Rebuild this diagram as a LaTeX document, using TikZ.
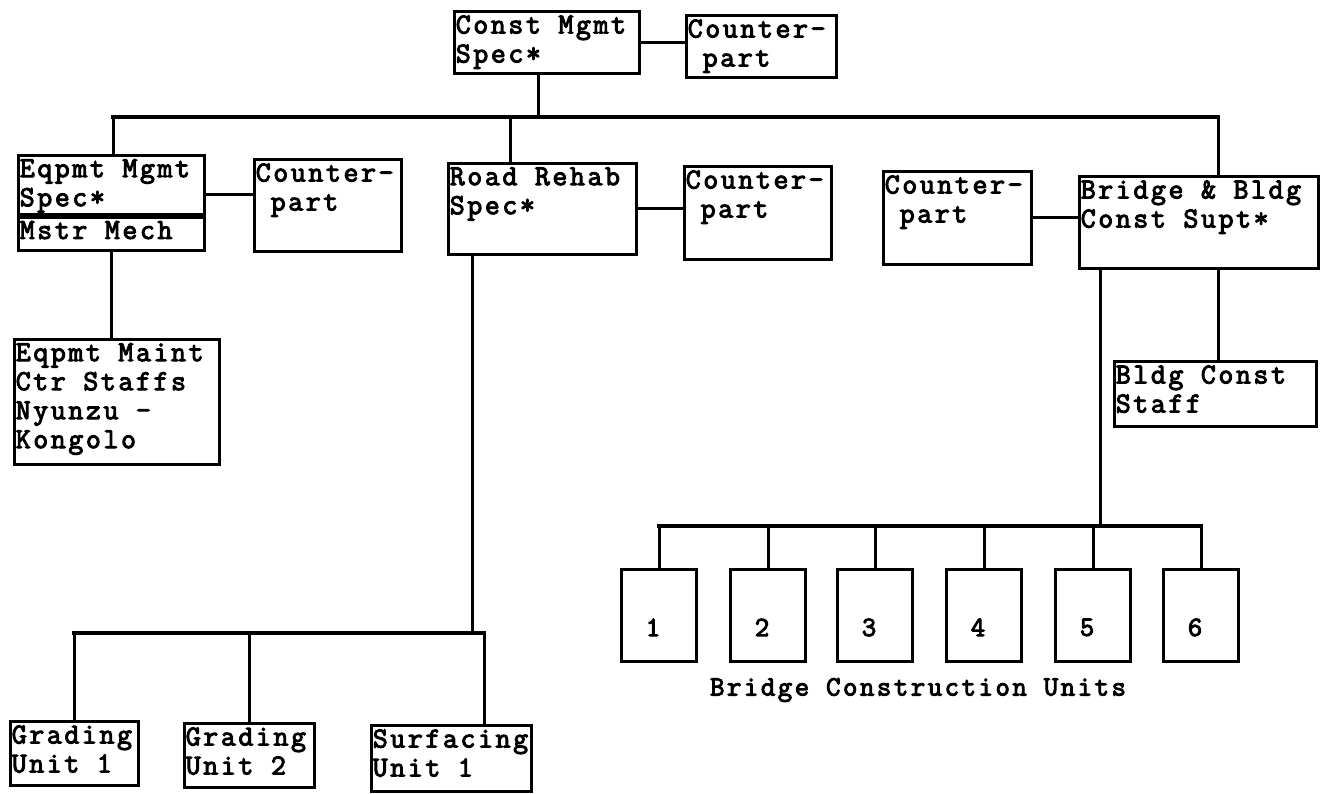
\documentclass[tikz,border=0pt]{standalone}
\usepackage{fontspec}
\newfontfamily\typer[LetterSpace=9, FakeBold=3.5]{Latin Modern Mono}
\usetikzlibrary{positioning}

\tikzset{
  box/.style={draw, line width=1.4pt, anchor=north west, inner sep=0pt},
  txt/.style={anchor=north west, inner xsep=1.2pt, inner ysep=2.5pt, align=left,
    font=\typer\fontsize{14.5pt}{14.5pt}\selectfont},
  num/.style={font=\typer\fontsize{14pt}{14pt}\selectfont, xshift=-3pt, yshift=-6pt},
  link/.style={line width=1.5pt},
  bar/.style={line width=2.2pt},
}

\begin{document}
\begin{tikzpicture}[x=1pt, y=-1pt, line cap=rect]
\useasboundingbox (0,0) rectangle (662.5,396.5);

% top
\node[box, minimum width=92.5pt, minimum height=31pt, label={[txt]north west:{Const Mgmt\\Spec*}}] (cms) at (226.5,5) {};
\node[box, minimum width=75pt, minimum height=31pt, label={[txt]north west:{Counter-\\\hphantom{C}part}}] (cp0) at (342.5,7) {};

% second row
\node[box, minimum width=93pt, minimum height=29.5pt, label={[txt]north west:{Eqpmt Mgmt\\Spec*}}] (ems) at (8.5,77) {};
\node[box, minimum width=93pt, minimum height=16.5pt, label={[txt]north west:{Mstr Mech}}] (mm) at (ems.south west) {};
\node[box, minimum width=73.5pt, minimum height=46pt, label={[txt]north west:{Counter-\\\hphantom{C}part}}] (cp1) at (126.5,79) {};
\node[box, minimum width=94pt, minimum height=45.5pt, label={[txt]north west:{Road Rehab\\Spec*}}] (rrs) at (223.5,81) {};
\node[box, minimum width=73.5pt, minimum height=46.5pt, label={[txt]north west:{Counter-\\\hphantom{C}part}}] (cp2) at (341.5,82.5) {};
\node[box, minimum width=74pt, minimum height=46.5pt, label={[txt]north west:{Counter-\\\hphantom{C}part}}] (cp3) at (441,85) {};
\node[box, minimum width=119.5pt, minimum height=46pt, label={[txt]north west:{Bridge \& Bldg\\Const Supt*}}] (bbs) at (539,87.5) {};

% third row
\node[box, minimum width=102.5pt, minimum height=62.5pt, label={[txt]north west:{Eqpmt Maint\\Ctr Staffs\\Nyunzu -\\Kongolo}}] (emc) at (6.5,169) {};
\node[box, minimum width=101pt, minimum height=32.5pt, label={[txt]north west:{Bldg Const\\Staff}}] (bcs) at (556.5,180) {};

% road units
\node[box, minimum width=64pt, minimum height=32pt, label={[txt]north west:{Grading\\Unit 1}}] (gu1) at (4.5,360) {};
\node[box, minimum width=65pt, minimum height=32pt, label={[txt]north west:{Grading\\Unit 2}}] (gu2) at (91.5,361) {};
\node[box, minimum width=80pt, minimum height=33pt, label={[txt]north west:{Surfacing\\Unit 1}}] (su1) at (185,362) {};

% bridge units
\foreach \i/\x in {1/329.5, 2/384, 3/437.5, 4/492, 5/546.5, 6/600.5}
  \node[box, anchor=north, minimum width=37.5pt, minimum height=46pt, label={[num]center:\i}] (u\i) at (\x,284) {};
\node[font=\typer\fontsize{14pt}{14pt}\selectfont] (bcu) at (459,345) {Bridge Construction Units};

% junctions
\coordinate (jE) at (56.5,58.5);
\coordinate (jC) at (269,58.5);
\coordinate (jR) at (255,58.5);
\coordinate (jB) at (609,58.5);
\coordinate (jS) at (236,316.5);
\coordinate (jU) at (242,316.5);
\coordinate (jD) at (550,263);

% lines
\draw[bar] (jE) -- (jB);
\draw[link] (cms.south -| jC) -- (jC);
\draw[link] (jE) -- (jE |- ems.north);
\draw[link] (jR) -- (jR |- rrs.north);
\draw[link] (jB) -- (jB |- bbs.north);

\draw[link] (cms.east) -- (cms.east -| cp0.west);
\draw[link] ([yshift=-5pt]ems.east) -- ([yshift=-5pt]ems.east -| cp1.west);
\draw[link] (rrs.east) -- (rrs.east -| cp2.west);
\draw[link] (cp3.east) -- (cp3.east -| bbs.west);

\draw[link] (mm.south) -- (mm.south |- emc.north);
\draw[link] (bbs.south -| jB) -- (bcs.north -| jB);

\draw[link] (rrs.south -| jS) -- (jS);
\draw[bar] (gu1.north |- jS) -- (jU);
\draw[link] (gu1.north |- jS) -- (gu1.north);
\draw[link] (gu2.north |- jS) -- (gu2.north);
\draw[link] (jU) -- (jU |- su1.north);

\draw[link] (bbs.south -| jD) -- (jD);
\draw[bar] (u1.north |- jD) -- (u6.north |- jD);
\foreach \i in {1,...,6}
  \draw[link] (u\i.north |- jD) -- (u\i.north);
\end{tikzpicture}
\end{document}
